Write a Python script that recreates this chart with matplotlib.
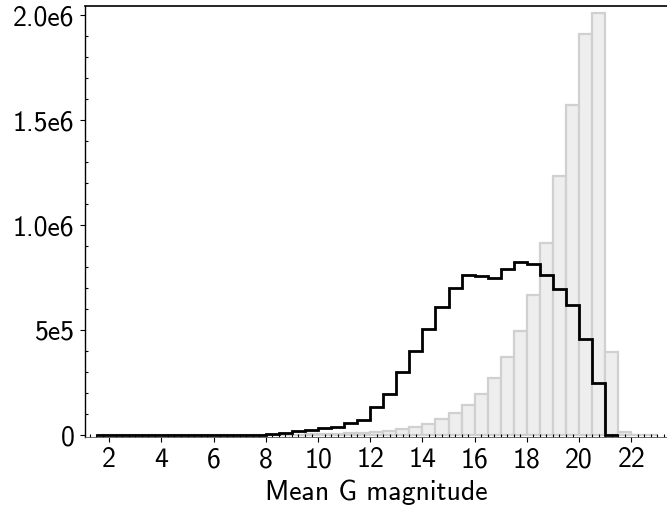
import numpy as np
import matplotlib
matplotlib.use("Agg")
import matplotlib.pyplot as plt
from matplotlib.ticker import MultipleLocator, FixedLocator, FixedFormatter

plt.rcParams['font.family'] = ['cmss10', 'DejaVu Sans']
plt.rcParams['axes.unicode_minus'] = False

# bin edges (Mean G magnitude)
bin_edges_gray = np.arange(1.5, 23.01, 0.5)
bin_edges_black = np.arange(1.5, 21.51, 0.5)

# gray histogram counts (bins 1.5 ... 23.0)
gray_counts = [0, 0, 0, 0, 0, 0, 0, 0, 0, 0, 0, 0, 0, 0,
               1000, 2000, 3000, 4000, 6000, 8000, 10000,
               13000, 21000, 29000, 38000, 54000, 75000, 103000, 142000,
               198000, 273000, 370000, 495000, 665000, 913000, 1235000, 1570000,
               1908000, 2008000, 394000, 13000, 2000, 1000]

# black histogram counts (bins 1.5 ... 21.5)
black_counts = [500, 500, 500, 500, 500, 500, 500, 500, 600, 800, 1000, 1500, 2500,
                4000, 10000, 18000, 25000, 32000, 39000, 56000, 71000,
                132000, 195000, 300000, 400000, 505000, 611000, 699000, 761000,
                757000, 750000, 793000, 822000, 814000, 760000, 694000, 619000,
                456000, 249000, 2000]

ytick_vals = [0, 5e5, 1e6, 1.5e6, 2e6]
ytick_labels = ["0", "5e5", "1.0e6", "1.5e6", "2.0e6"]
xtick_vals = [2, 4, 6, 8, 10, 12, 14, 16, 18, 20, 22]

fig = plt.figure(figsize=(6.67, 5.11), dpi=100)
ax = fig.add_axes([0.1274, 0.1448, 0.8726, 0.8435])

ax.hist(bin_edges_gray[:-1], bins=bin_edges_gray, weights=gray_counts,
        histtype='bar', facecolor='#eeeeee', edgecolor='#d0d0d0', linewidth=1.6)
ax.hist(bin_edges_black[:-1], bins=bin_edges_black, weights=black_counts,
        histtype='step', color='black', linewidth=2.0)

ax.set_xlim(1.07, 23.37)
ax.set_ylim(-9000, 2.043e6)

ax.spines['right'].set_visible(False)
ax.spines['bottom'].set_linewidth(0.6)
ax.spines['bottom'].set_color('#555555')
ax.spines['left'].set_linewidth(1.0)
ax.spines['top'].set_linewidth(1.2)

ax.xaxis.set_major_locator(FixedLocator(xtick_vals))
ax.xaxis.set_minor_locator(MultipleLocator(0.25))
ax.yaxis.set_major_locator(FixedLocator(ytick_vals))
ax.yaxis.set_major_formatter(FixedFormatter(ytick_labels))
ax.yaxis.set_minor_locator(MultipleLocator(1e5))

ax.tick_params(axis='both', which='major', direction='out', length=3.5, width=0.8,
               labelsize=20, pad=4)
ax.tick_params(axis='both', which='minor', direction='in', length=2, width=0.8)
ax.tick_params(axis='x', which='both', top=False)
ax.tick_params(axis='y', which='both', right=False)

ax.set_xlabel("Mean G magnitude", fontsize=20, labelpad=5)

fig.savefig("out.png", dpi=100)
